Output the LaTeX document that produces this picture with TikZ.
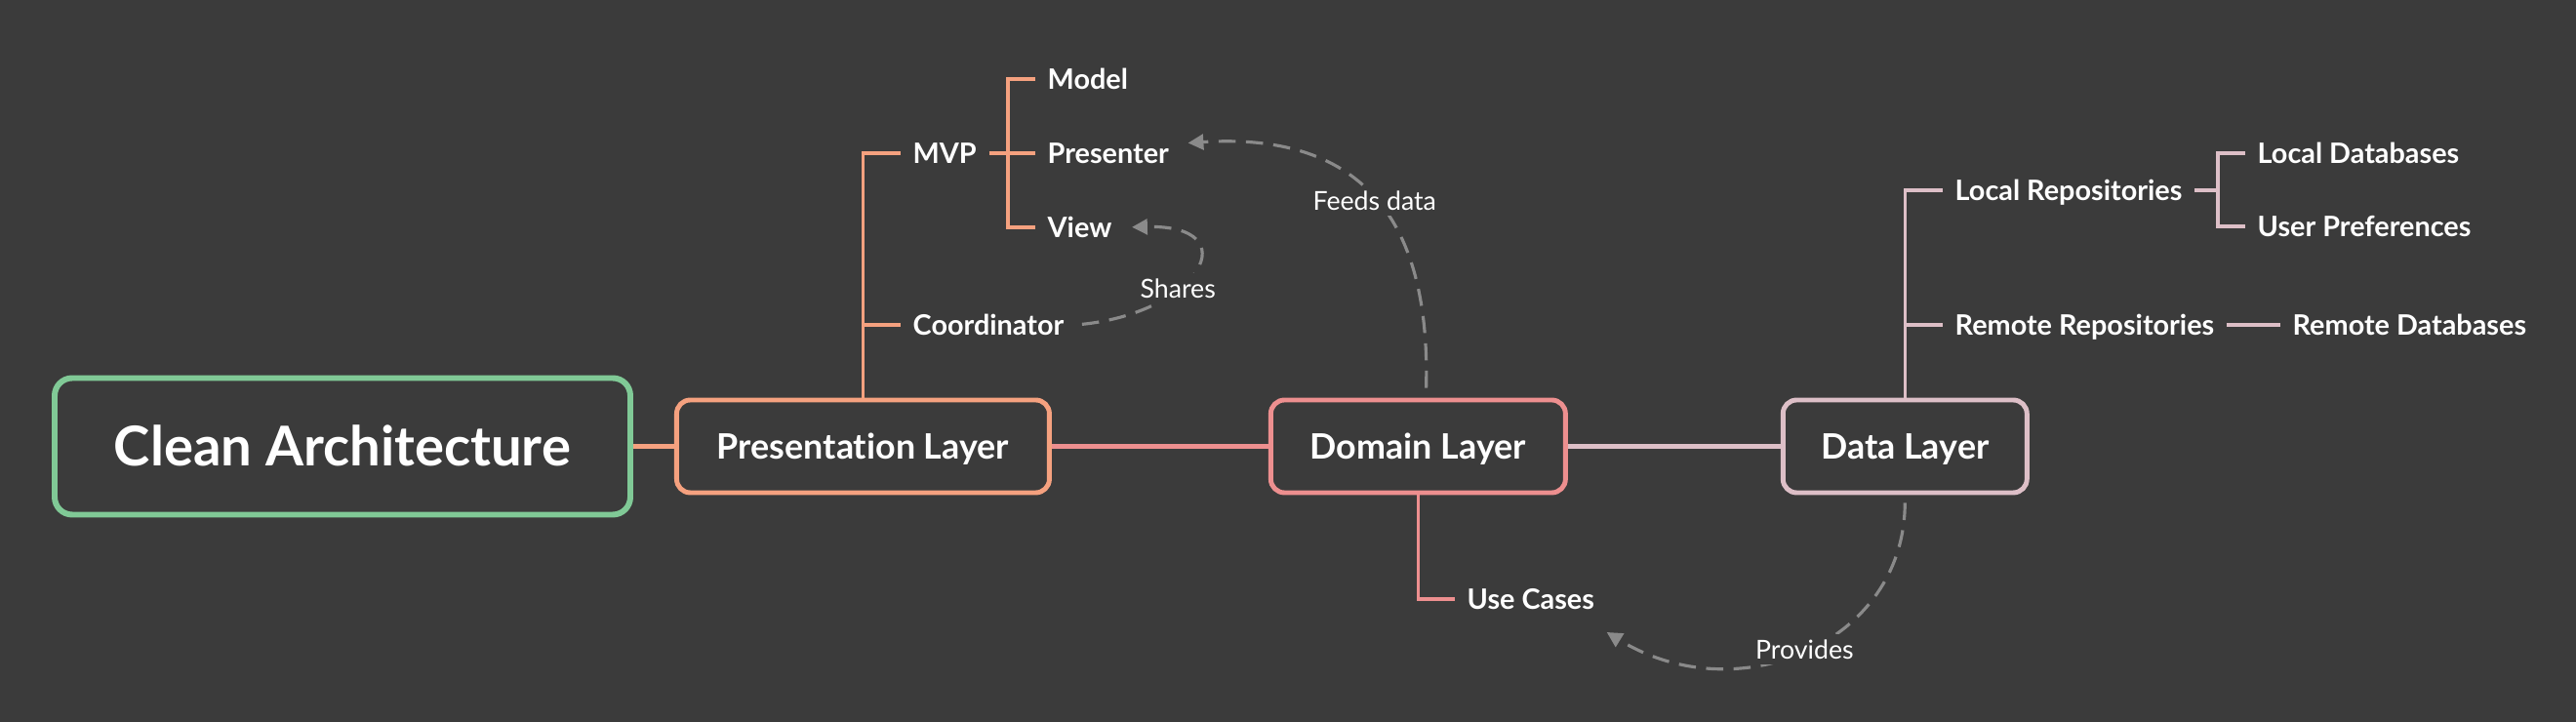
\documentclass[tikz,border=0pt]{standalone}
\usepackage{fontspec}
\setmainfont[Ligatures=NoCommon]{Lato}
\usepackage{tikz}
\usetikzlibrary{arrows.meta, positioning, calc}
\definecolor{fondo}{RGB}{59,59,59}
\definecolor{verde}{RGB}{128,201,150}
\definecolor{naranja}{RGB}{245,161,127}
\definecolor{rosa}{RGB}{237,143,143}
\definecolor{malva}{RGB}{221,191,199}
\definecolor{guia}{RGB}{138,138,138}

\begin{document}
\begin{tikzpicture}[
  caja/.style={draw=#1, line width=1.4pt, rounded corners=0.14cm, fill=fondo, text=white,
               minimum height=0.95cm, inner sep=0pt, font=\bfseries\fontsize{10.2}{12}\selectfont,
               text height=7.3pt, text depth=0pt},
  hoja/.style={anchor=west, text=white, inner xsep=0.12cm, inner ysep=0pt,
               font=\bfseries\fontsize{8.2}{10}\selectfont, text height=5.9pt, text depth=0pt},
  rama/.style={draw=#1, line width=1pt},
  enlace/.style={draw=#1, line width=1.15pt},
  guion/.style={draw=guia, line width=0.9pt, dash pattern=on 5pt off 3pt,
                -{Triangle[length=4.5pt, width=4.5pt]}},
  nota/.style={fill=fondo, text=white, font=\fontsize{7.6}{9}\selectfont, inner sep=1.5pt}
]
\fill[fondo] (0,0) rectangle (26.4,-7.4);
\useasboundingbox (0,0) rectangle (26.4,-7.4);

% main row
\node[caja=verde, line width=1.7pt, minimum width=5.9cm, minimum height=1.4cm, rounded corners=0.18cm,
      font=\bfseries\fontsize{16}{19}\selectfont, text height=11.5pt] (clean) at (3.51,-4.575) {Clean Architecture};
\node[caja=naranja, minimum width=3.82cm, right=0.42cm of clean] (pres) {Presentation Layer};
\node[caja=rosa, minimum width=3.02cm, right=2.22cm of pres] (dom) {Domain Layer};
\node[caja=malva, minimum width=2.5cm, right=2.18cm of dom] (data) {Data Layer};

\draw[enlace=naranja] (clean) -- (pres);
\draw[enlace=rosa] (pres) -- (dom);
\draw[enlace=malva] (dom) -- (data);

% presentation branch
\node[hoja] (mvp) at (9.23,-1.57) {MVP};
\node[hoja] (coord) at (9.23,-3.33) {Coordinator};
\node[hoja] (model) at (10.61,-0.81) {Model};
\node[hoja] (prsnt) at (10.61,-1.57) {Presenter};
\node[hoja] (view) at (10.61,-2.33) {View};
\coordinate (mvpfork) at (10.33,-1.57);

\draw[rama=naranja] (pres.north) |- (mvp.west);
\draw[rama=naranja] (pres.north) |- (coord.west);
\draw[rama=naranja] (mvp.east) -- (prsnt.west);
\draw[rama=naranja] (mvpfork) |- (model.west);
\draw[rama=naranja] (mvpfork) |- (view.west);

% domain branch
\node[hoja] (uc) at (14.91,-6.14) {Use Cases};
\draw[rama=rosa] (dom.south) |- (uc.west);

% data branch
\node[hoja] (lrepo) at (19.91,-1.95) {Local Repositories};
\node[hoja] (rrepo) at (19.91,-3.33) {Remote Repositories};
\node[hoja] (ldb) at (23.01,-1.57) {Local Databases};
\node[hoja] (prefs) at (23.01,-2.32) {User Preferences};
\node[hoja, right=0.55cm of rrepo] (rdb) {Remote Databases};
\coordinate (lfork) at (22.73,-1.95);

\draw[rama=malva] (data.north) |- (lrepo.west);
\draw[rama=malva] (data.north) |- (rrepo.west);
\draw[rama=malva] (lrepo.east) -- (lfork);
\draw[rama=malva] (lfork) |- (ldb.west);
\draw[rama=malva] (lfork) |- (prefs.west);
\draw[rama=malva] (rrepo) -- (rdb);

% relations
\draw[guion, shorten <=0.06cm, shorten >=0.08cm] (coord.east)
  .. controls (12.3,-3.2) and (12.8,-2.3) .. node[nota, pos=0.37] {Shares} (view.east);
\draw[guion, shorten <=0.1cm, shorten >=0.07cm] ([xshift=0.08cm]dom.north)
  .. controls (14.66,-2.3) and (14.0,-1.35) .. node[nota, pos=0.5] {Feeds data} ([yshift=0.1cm]prsnt.east);
\draw[guion, shorten <=0.08cm] (data.south)
  .. controls (19.52,-6.6) and (17.8,-7.3) .. node[nota, pos=0.5] {Provides} ([yshift=-0.34cm]uc.east);
\end{tikzpicture}
\end{document}
